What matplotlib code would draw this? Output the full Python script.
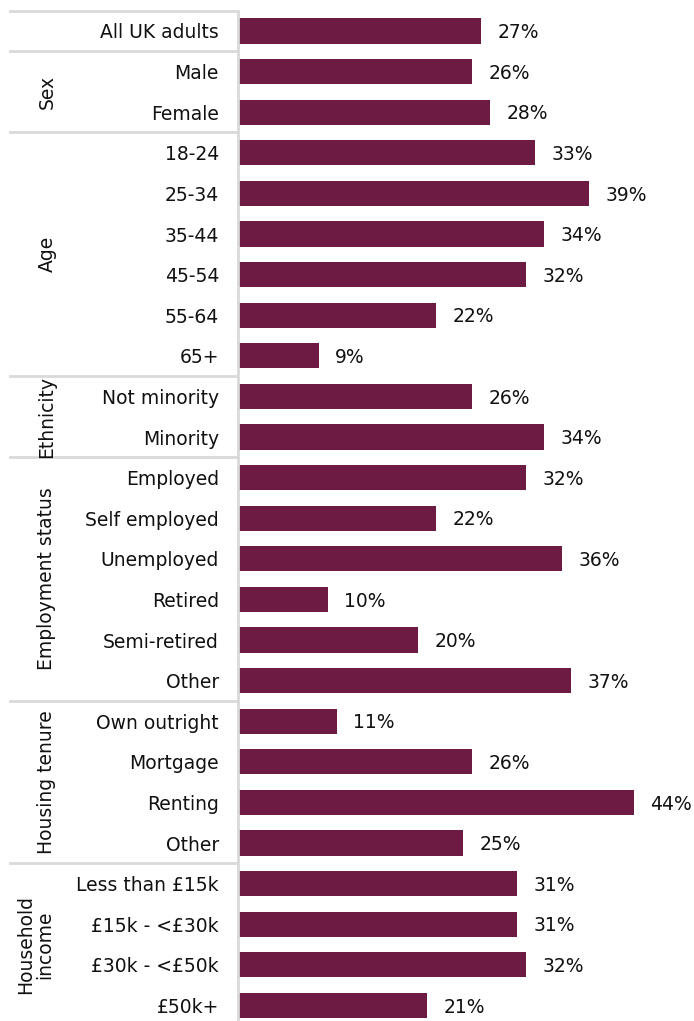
import matplotlib.pyplot as plt
from matplotlib.transforms import blended_transform_factory

# Share of UK adults in each group
categories = ['All UK adults', 'Male', 'Female',
              '18-24', '25-34', '35-44', '45-54', '55-64', '65+',
              'Not minority', 'Minority',
              'Employed', 'Self employed', 'Unemployed', 'Retired', 'Semi-retired', 'Other',
              'Own outright', 'Mortgage', 'Renting', 'Other',
              'Less than £15k', '£15k - <£30k', '£30k - <£50k', '£50k+']
values = [27, 26, 28,
          33, 39, 34, 32, 22, 9,
          26, 34,
          32, 22, 36, 10, 20, 37,
          11, 26, 44, 25,
          31, 31, 32, 21]

# group name, first row, last row
groups = [('Sex', 1, 2), ('Age', 3, 8), ('Ethnicity', 9, 10),
          ('Employment status', 11, 16), ('Housing tenure', 17, 20),
          ('Household\nincome', 21, 24)]

bar_color = '#6E1B44'
line_color = '#D9D9D9'
fs = 13.5

W, H = 694, 1021
fig = plt.figure(figsize=(W / 100, H / 100), dpi=100)
ax = fig.add_axes([238 / W, 0, 1 - 238 / W, 1 - 10.7 / H])

y = list(range(len(categories)))
ax.barh(y, values, height=0.62, color=bar_color)
for yi, v in zip(y, values):
    ax.text(v + 1.8, yi + 0.04, f'{v}%', va='center', ha='left', fontsize=fs, color='#111111')

ax.set_xlim(0, (W - 238) / 9)
ax.set_ylim(-0.5 + (H - 10.7) / 40.6, -0.5)
ax.set_yticks(y)
ax.set_yticklabels(categories, fontsize=fs, color='#111111')
ax.tick_params(axis='y', length=0, pad=13.7)
ax.set_xticks([])
for s in ['top', 'right', 'bottom']:
    ax.spines[s].set_visible(False)
ax.spines['left'].set_color(line_color)
ax.spines['left'].set_linewidth(2)

# horizontal separators between groups in the label column
tr = blended_transform_factory(fig.transFigure, ax.transData)
for b in [-0.5, 0.5, 2.5, 8.5, 10.5, 16.5, 20.5]:
    ax.plot([10 / W, 237 / W], [b, b], transform=tr, color=line_color,
            lw=2, clip_on=False)

for name, a, b in groups:
    ax.text(47 / W if '\n' not in name else 35 / W, (a + b) / 2, name,
            transform=tr, rotation=90, ha='center', va='center',
            fontsize=fs, color='#111111', linespacing=1.0)

fig.savefig('out.png', dpi=100)
